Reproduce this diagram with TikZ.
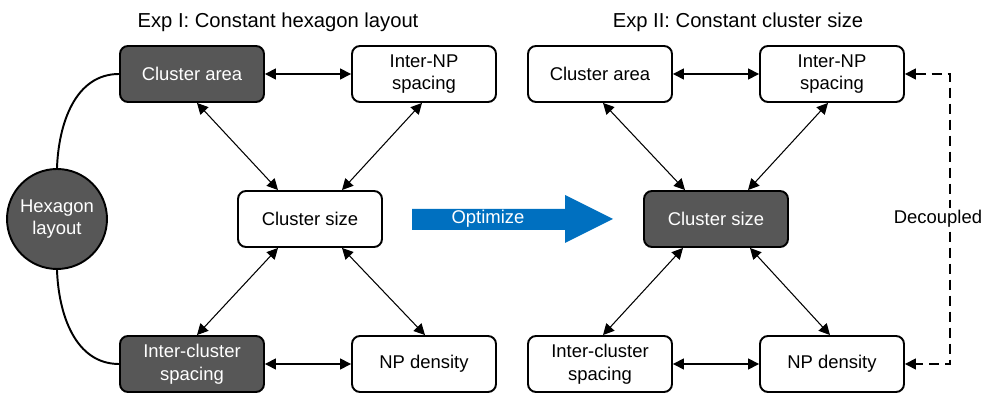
\documentclass[tikz,border=0pt]{standalone}
\usepackage{fontspec}
\setmainfont{Liberation Sans}
\usepackage{tikz}
\usetikzlibrary{arrows.meta}
\definecolor{darkfill}{RGB}{87,87,87}
\definecolor{optblue}{RGB}{0,112,192}
\tikzset{
    % 深色方框
    darkbox/.style={
        draw=black,
        fill=darkfill,
        text=white,
        line width=1.1pt,
        rounded corners=0.16cm,
        minimum width=2.88cm,
        minimum height=1.12cm,
        align=center,
        font=\fontsize{10.5}{12.8}\selectfont
    },
    % 白色方框
    whitebox/.style={
        darkbox,
        fill=white,
        text=black
    },
    % 双向箭头
    blackarrow/.style={
        line width=0.6pt,
        black,
        <->,
        >={Triangle[length=2.2mm, width=2.2mm]}
    },
    % 虚线箭头
    dasharrow/.style={
        blackarrow,
        dash pattern=on 2mm off 1.2mm
    }
}
\begin{document}
\begin{tikzpicture}[x=0.02cm,y=-0.02cm]
	\useasboundingbox (0,0) rectangle (984,394);
	
	% 标题
	\node[font=\fontsize{11.5}{14}\selectfont] (t1) at (278,22) {Exp I: Constant hexagon layout};
	\node[font=\fontsize{11.5}{14}\selectfont] (t2) at (738,22) {Exp II: Constant cluster size};
	
	% 左侧
	\node[darkbox,circle,minimum size=2cm,inner sep=0pt,font=\fontsize{10.5}{12.8}\selectfont] (hex) at (57,219) {Hexagon\\layout};
	\node[darkbox] (ca1) at (192,74) {Cluster area};
	\node[whitebox] (np1) at (424,74) {Inter-NP\\spacing};
	\node[whitebox] (cs1) at (310,219) {Cluster size};
	\node[darkbox] (ic1) at (192,364) {Inter-cluster\\spacing};
	\node[whitebox] (nd1) at (424,364) {NP density};
	
	\draw[line width=1.1pt] (hex.north) to[out=88,in=180] (ca1.west);
	\draw[line width=1.1pt] (hex.south) to[out=-88,in=180] (ic1.west);
	
	\draw[blackarrow,line width=0.85pt] (ca1) -- (np1);
	\draw[blackarrow,line width=0.85pt] (ic1) -- (nd1);
	\draw[blackarrow] ([xshift=0.1cm]ca1.south) -- ([xshift=-0.64cm]cs1.north);
	\draw[blackarrow] ([xshift=-0.04cm]np1.south) -- ([xshift=0.64cm]cs1.north);
	\draw[blackarrow] ([xshift=-0.64cm]cs1.south) -- ([xshift=0.1cm]ic1.north);
	\draw[blackarrow] ([xshift=0.64cm]cs1.south) -- ([xshift=0.02cm]nd1.north);
	
	% 蓝色箭头
	\fill[optblue] (412,209) -- (565,209) -- (565,195) -- (613,219)
		-- (565,243) -- (565,230) -- (412,230) -- cycle;
	\node[text=white,font=\fontsize{10.5}{12}\selectfont] (opt) at (488,219) {Optimize};
	
	% 右侧
	\node[whitebox] (ca2) at (600,74) {Cluster area};
	\node[whitebox] (np2) at (832,74) {Inter-NP\\spacing};
	\node[darkbox] (cs2) at (716,219) {Cluster size};
	\node[whitebox] (ic2) at (600,364) {Inter-cluster\\spacing};
	\node[whitebox] (nd2) at (832,364) {NP density};
	
	\draw[blackarrow,line width=0.85pt] (ca2) -- (np2);
	\draw[blackarrow,line width=0.85pt] (ic2) -- (nd2);
	\draw[blackarrow] ([xshift=0.06cm]ca2.south) -- ([xshift=-0.62cm]cs2.north);
	\draw[blackarrow] ([xshift=-0.08cm]np2.south) -- ([xshift=0.64cm]cs2.north);
	\draw[blackarrow] ([xshift=-0.66cm]cs2.south) -- ([xshift=0.06cm]ic2.north);
	\draw[blackarrow] ([xshift=0.68cm]cs2.south) -- ([xshift=-0.04cm]nd2.north);
	
	% 虚线
	\coordinate (dc) at (950,219);
	\draw[dasharrow,line width=0.85pt] (np2.east) -| (dc) |- (nd2.east);
	\node[fill=white,inner sep=1.5pt,font=\fontsize{10.5}{12}\selectfont] (dec) at (938,219) {Decoupled};
\end{tikzpicture}
\end{document}
